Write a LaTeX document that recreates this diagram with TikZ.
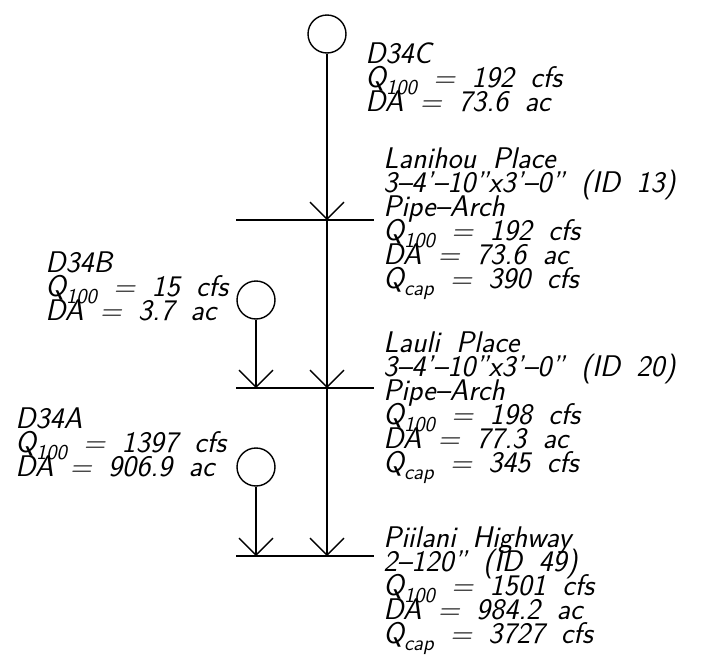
\documentclass[tikz,border=0pt]{standalone}
\usepackage{tikz}
\usetikzlibrary{arrows.meta}
\newcommand{\lowsub}[1]{\raisebox{-4.5pt}{\fontsize{12}{12}\selectfont #1}}
\newcommand{\blockfont}{\sffamily\itshape\fontsize{17}{13.66}\selectfont
  \fontdimen2\font=0.55em\lineskiplimit=-50pt\lineskip=0pt}
\tikzset{
  basin/.style={circle,draw,line width=0.8pt,minimum size=0.76cm,inner sep=0pt},
  flow/.style={line width=0.8pt,-{Straight Barb[length=0.34cm,width=0.68cm,line width=0.8pt]}},
  road/.style={line width=0.8pt},
  info/.style={font=\blockfont,align=left,anchor=base west,inner sep=0pt}
}
\begin{document}
\begin{tikzpicture}[x=0.02cm,y=-0.02cm]
  \useasboundingbox (0,0) rectangle (704,667);
  \def\xl{236}
  \def\xr{374}
  \def\xm{327}
  \def\xs{256}
  \node[basin] (c34c) at (\xm,34) {};
  \node[basin] (c34b) at (\xs,300) {};
  \node[basin] (c34a) at (\xs,467) {};
  \coordinate (id13w) at (\xl,220);
  \coordinate (id13e) at (\xr,220);
  \coordinate (id13) at (\xm,220);
  \coordinate (id20w) at (\xl,388);
  \coordinate (id20e) at (\xr,388);
  \coordinate (id20) at (\xm,388);
  \coordinate (id20b) at (\xs,388);
  \coordinate (id49w) at (\xl,556);
  \coordinate (id49e) at (\xr,556);
  \coordinate (id49) at (\xm,556);
  \coordinate (id49a) at (\xs,556);
  \draw[road] (id13w) -- (id13e);
  \draw[road] (id20w) -- (id20e);
  \draw[road] (id49w) -- (id49e);
  \draw[flow] (c34c.south) -- (id13);
  \draw[flow] (id13) -- (id20);
  \draw[flow] (id20) -- (id49);
  \draw[flow] (c34b.south) -- (id20b);
  \draw[flow] (c34a.south) -- (id49a);
  \node[info] (lblc) at (365,111)
    {D34C\\Q\lowsub{100} = 192 cfs\\DA = 73.6 ac};
  \node[info] (lblb) at (45,320)
    {D34B\\Q\lowsub{100} = 15 cfs\\DA = 3.7 ac};
  \node[info] (lbla) at (15,476)
    {D34A\\Q\lowsub{100} = 1397 cfs\\DA = 906.9 ac};
  \node[info] (lbl13) at (383,288)
    {Lanihou Place\\3--4'--10''x3'--0'' (ID 13)\\Pipe--Arch\\
     Q\lowsub{100} = 192 cfs\\DA = 73.6 ac\\Q\lowsub{cap} = 390 cfs};
  \node[info] (lbl20) at (383,472)
    {Lauli Place\\3--4'--10''x3'--0'' (ID 20)\\Pipe--Arch\\
     Q\lowsub{100} = 198 cfs\\DA = 77.3 ac\\Q\lowsub{cap} = 345 cfs};
  \node[info] (lbl49) at (383,643)
    {Piilani Highway\\2--120'' (ID 49)\\
     Q\lowsub{100} = 1501 cfs\\DA = 984.2 ac\\Q\lowsub{cap} = 3727 cfs};
\end{tikzpicture}
\end{document}
